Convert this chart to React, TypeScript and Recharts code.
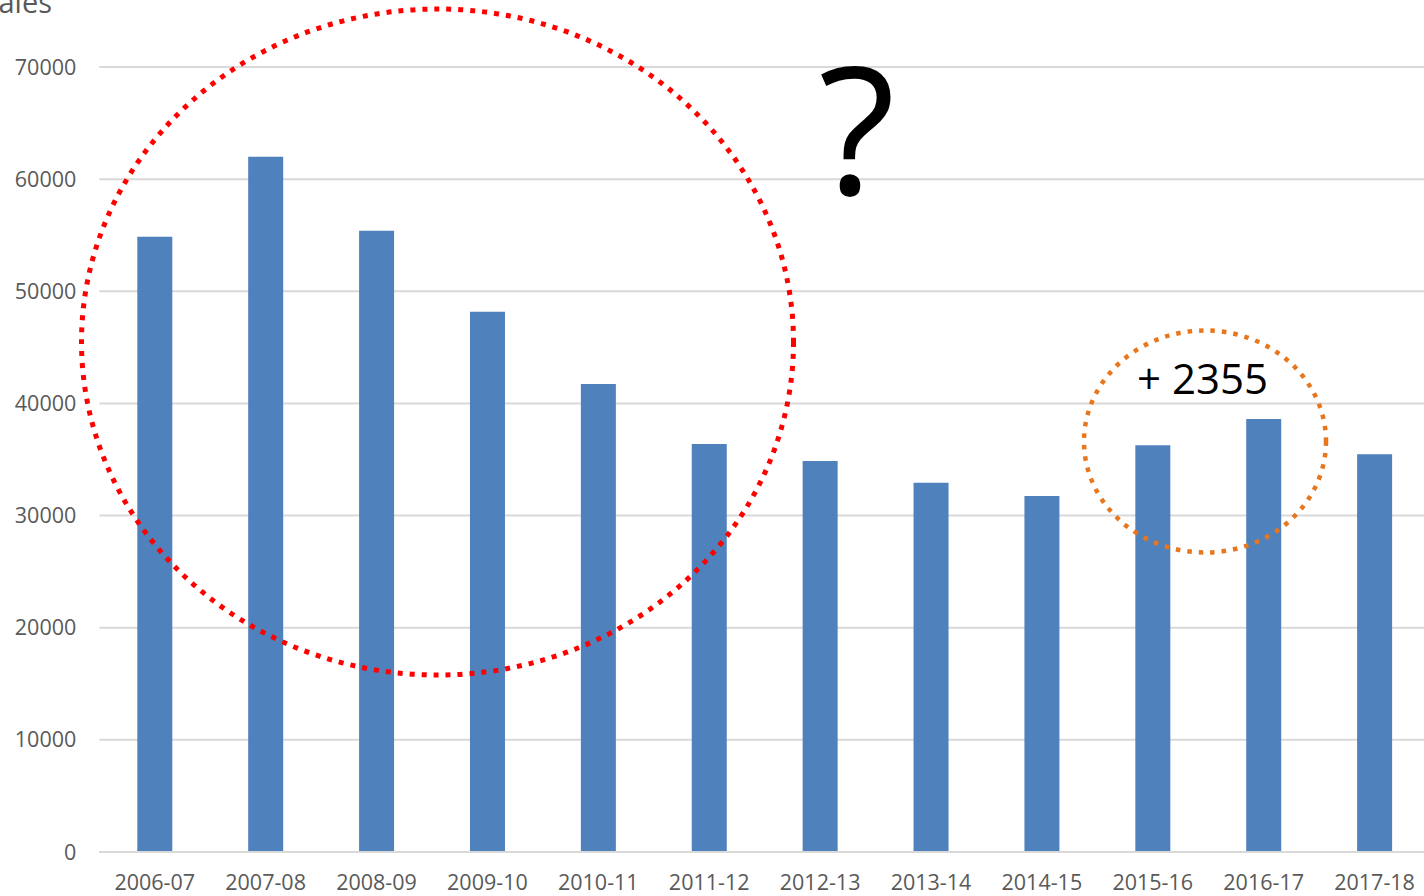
import React from 'react';
import { BarChart, Bar, XAxis, YAxis, CartesianGrid } from 'recharts';

// Données
const seasons = [
    '2006-07', '2007-08', '2008-09', '2009-10', '2010-11', '2011-12',
    '2012-13', '2013-14', '2014-15', '2015-16', '2016-17', '2017-18'
];
const sales = [
    54870, 62000, 55400, 48180, 41730, 36380,
    34870, 32930, 31750, 36260, 38615, 35460
];
const yTicks = [0, 10000, 20000, 30000, 40000, 50000, 60000, 70000];

const data = seasons.map((season, i) => ({ season, sales: sales[i] }));

const FONT = '"Open Sans", sans-serif';
const GREY = '#595959';

const App: React.FC = () => {
    return (
        <div style={{ position: 'absolute', left: 0, top: 0, width: 1424, height: 896, overflow: 'hidden', background: '#fff' }}>
            <BarChart
                width={1430}
                height={896}
                data={data}
                margin={{ top: 67, right: 0, left: 0, bottom: 0 }}
                barSize={35}
            >
                <CartesianGrid vertical={false} stroke="#d9d9d9" strokeWidth={2} />
                <XAxis
                    dataKey="season"
                    height={44}
                    tickSize={0}
                    tickMargin={23}
                    axisLine={{ stroke: '#d9d9d9', strokeWidth: 2 }}
                    tick={{ fill: GREY, fontSize: 21.5, fontFamily: FONT }}
                    interval={0}
                />
                <YAxis
                    width={99.3}
                    domain={[0, 70000]}
                    ticks={yTicks}
                    tickSize={0}
                    tickMargin={23}
                    axisLine={false}
                    tickLine={false}
                    tick={{ fill: GREY, fontSize: 21.5, fontFamily: FONT }}
                />
                <Bar dataKey="sales" fill="#4F81BD" isAnimationActive={false} />
            </BarChart>

            {/* Annotations par-dessus le graphique */}
            <svg
                width={1424}
                height={896}
                style={{ position: 'absolute', left: 0, top: 0, pointerEvents: 'none' }}
            >
                <text x={52} y={13} textAnchor="end" fill={GREY} fontSize={29} fontFamily={FONT}>
                    Sales
                </text>
                <ellipse
                    cx={437.5}
                    cy={342}
                    rx={356}
                    ry={333}
                    fill="none"
                    stroke="#FF0000"
                    strokeWidth={5}
                    strokeDasharray="5 7"
                />
                <ellipse
                    cx={1205}
                    cy={441.5}
                    rx={121}
                    ry={111}
                    fill="none"
                    stroke="#E8761C"
                    strokeWidth={4.5}
                    strokeDasharray="4.5 7"
                />
                <text x={857} y={195} textAnchor="middle" fill="#000" fontSize={178} fontWeight={500} fontFamily={FONT}>
                    ?
                </text>
                <text x={1137} y={394} fill="#000" fontSize={42} fontFamily={FONT}>
                    + 2355
                </text>
            </svg>
        </div>
    );
};

export default App;
